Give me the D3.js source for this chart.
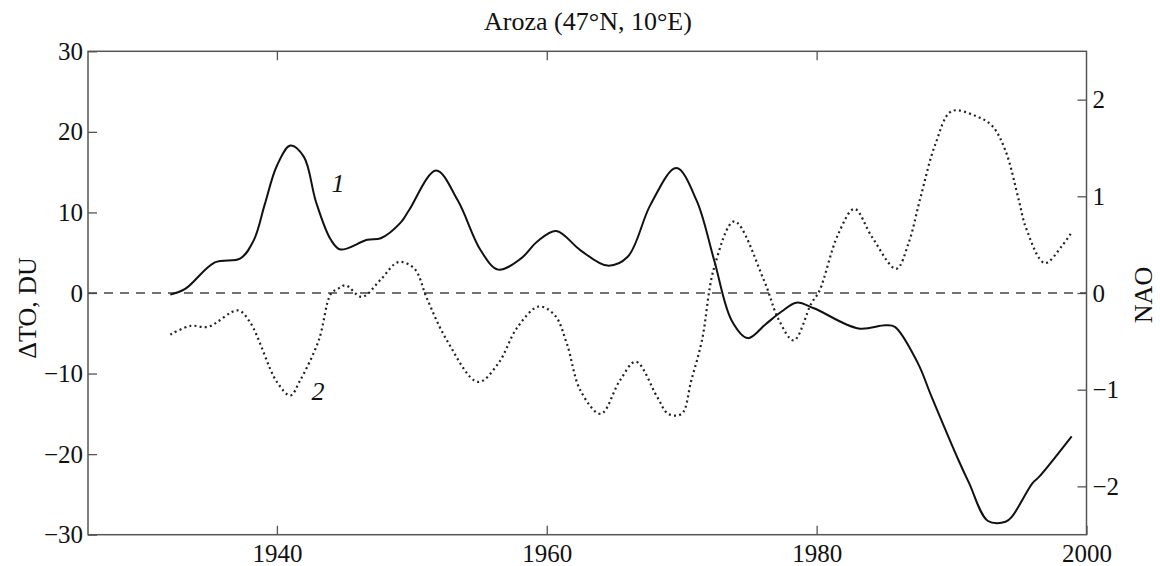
<!DOCTYPE html>
<html>
<head>
<meta charset="utf-8">
<script src="https://cdn.jsdelivr.net/npm/d3@7"></script>
<style>
  body { margin: 0; background: #fff; }
  svg text { font-family: "Liberation Serif", "Times New Roman", serif; fill: #111; }
</style>
</head>
<body>
<div id="viz"></div>
<script>
// curve 1: total ozone anomaly, DU (left axis)
const years1 = [1932.1, 1933.2, 1935.4, 1937.3, 1938.3, 1939.1, 1940.0, 1941.0, 1942.0, 1942.9,
  1944.0, 1944.7, 1946.7, 1947.7, 1949.2, 1949.8, 1951.8, 1953.4, 1955.1, 1956.4,
  1958.1, 1959.3, 1960.7, 1962.5, 1964.5, 1966.0, 1967.7, 1969.6, 1971.1, 1972.4,
  1973.7, 1974.9, 1976.2, 1977.4, 1978.5, 1979.8, 1983.1, 1985.1, 1985.8, 1987.5,
  1988.5, 1990.5, 1991.3, 1992.7, 1994.0, 1994.5, 1996.0, 1996.5, 1998.9];
const ozone = [-0.2, 0.5, 3.8, 4.3, 6.6, 11.0, 15.8, 18.3, 16.9, 11.3,
  6.6, 5.4, 6.6, 6.8, 8.8, 10.3, 15.2, 11.5, 5.3, 2.9,
  4.3, 6.4, 7.7, 5.3, 3.4, 4.5, 11.0, 15.5, 11.5, 4.1,
  -3.4, -5.6, -3.9, -2.3, -1.2, -1.9, -4.4, -4.0, -4.2, -8.7,
  -12.8, -20.7, -23.6, -28.3, -28.4, -27.7, -23.6, -22.8, -17.8];

// curve 2: NAO index (right axis)
const years2 = [1932.1, 1933.6, 1934.9, 1937.1, 1938.0, 1940.0, 1941.0, 1941.7, 1943.1, 1944.0,
  1944.6, 1945.1, 1946.3, 1947.7, 1949.0, 1950.2, 1951.1, 1952.6, 1954.9, 1956.4,
  1957.8, 1959.4, 1960.6, 1961.5, 1962.5, 1964.0, 1965.4, 1966.6, 1968.2, 1969.0,
  1970.0, 1970.7, 1971.5, 1972.4, 1973.9, 1976.1, 1977.2, 1978.3, 1979.6, 1980.2,
  1981.6, 1982.8, 1984.1, 1985.9, 1986.8, 1987.7, 1988.8, 1990.0, 1991.8, 1993.0,
  1994.0, 1995.0, 1995.5, 1996.9, 1998.2, 1998.9];
const nao = [-0.43, -0.34, -0.35, -0.18, -0.3, -0.92, -1.06, -0.91, -0.49, -0.01,
  0.05, 0.08, -0.04, 0.14, 0.32, 0.25, -0.05, -0.49, -0.92, -0.73,
  -0.36, -0.14, -0.23, -0.53, -1.01, -1.25, -0.91, -0.71, -1.08, -1.25,
  -1.25, -0.91, -0.49, 0.26, 0.74, 0.13, -0.28, -0.49, -0.11, 0.02,
  0.61, 0.87, 0.58, 0.25, 0.51, 0.99, 1.54, 1.88, 1.83, 1.73,
  1.47, 0.95, 0.68, 0.31, 0.49, 0.63];

const yearTicks = [1940, 1960, 1980, 2000];
const ozoneTicks = [-30, -20, -10, 0, 10, 20, 30];
const naoTicks = [-2, -1, 0, 1, 2];

const width = 1160, height = 566;
const margin = { top: 51.3, right: 73.5, bottom: 31.3, left: 88 };
const innerW = width - margin.left - margin.right;
const innerH = height - margin.top - margin.bottom;
const serif = "Liberation Serif, Times New Roman, serif";

const svg = d3.select("#viz")
  .append("svg")
  .attr("width", width)
  .attr("height", height);

const g = svg.append("g")
  .attr("transform", `translate(${margin.left},${margin.top})`);

const x = d3.scaleLinear().domain([1926, 2000]).range([0, innerW]);
const yL = d3.scaleLinear().domain([-30, 30]).range([innerH, 0]);
const yR = d3.scaleLinear().domain([-2.5, 2.5]).range([innerH, 0]);
const fmt = d3.format("d");

// axes, ticks point inward
const styleAxis = (sel) => {
  sel.attr("font-family", serif).attr("font-size", 25);
  sel.select(".domain").remove();
  sel.selectAll(".tick line").attr("stroke", "#555").attr("stroke-width", 1.3);
  sel.selectAll(".tick text").attr("fill", "#111");
};

g.append("g")
  .attr("transform", `translate(0,${innerH})`)
  .call(d3.axisBottom(x).tickValues(yearTicks).tickFormat(fmt)
    .tickSizeInner(-9).tickSizeOuter(0).tickPadding(10))
  .call(styleAxis);

g.append("g")
  .call(d3.axisTop(x).tickValues(yearTicks.slice(0, 3)).tickFormat("")
    .tickSizeInner(-9).tickSizeOuter(0))
  .call(styleAxis);

g.append("g")
  .call(d3.axisLeft(yL).tickValues(ozoneTicks).tickFormat(fmt)
    .tickSizeInner(-9).tickSizeOuter(0).tickPadding(5))
  .call(styleAxis);

g.append("g")
  .attr("transform", `translate(${innerW},0)`)
  .call(d3.axisRight(yR).tickValues(naoTicks).tickFormat(fmt)
    .tickSizeInner(-9).tickSizeOuter(0).tickPadding(6))
  .call(styleAxis);

// frame
g.append("rect")
  .attr("width", innerW)
  .attr("height", innerH)
  .attr("fill", "none")
  .attr("stroke", "#555")
  .attr("stroke-width", 1.5);

// zero line
g.append("line")
  .attr("x1", 0)
  .attr("x2", innerW)
  .attr("y1", yL(0))
  .attr("y2", yL(0))
  .attr("stroke", "#444")
  .attr("stroke-width", 1.3)
  .attr("stroke-dasharray", "9,7");

const line1 = d3.line()
  .x((d, i) => x(years1[i]))
  .y((d) => yL(d))
  .curve(d3.curveCatmullRom.alpha(0.5));

const line2 = d3.line()
  .x((d, i) => x(years2[i]))
  .y((d) => yR(d))
  .curve(d3.curveCatmullRom.alpha(0.5));

g.append("path")
  .datum(ozone)
  .attr("d", line1)
  .attr("fill", "none")
  .attr("stroke", "#111")
  .attr("stroke-width", 2);

g.append("path")
  .datum(nao)
  .attr("d", line2)
  .attr("fill", "none")
  .attr("stroke", "#222")
  .attr("stroke-width", 2.2)
  .attr("stroke-dasharray", "2,3.2");

// curve numbers
svg.append("text")
  .attr("x", 338)
  .attr("y", 192)
  .attr("font-size", 26)
  .attr("font-style", "italic")
  .attr("text-anchor", "middle")
  .text("1");

svg.append("text")
  .attr("x", 318)
  .attr("y", 400)
  .attr("font-size", 26)
  .attr("font-style", "italic")
  .attr("text-anchor", "middle")
  .text("2");

// title and axis titles
svg.append("text")
  .attr("x", 588)
  .attr("y", 30)
  .attr("font-size", 26)
  .attr("text-anchor", "middle")
  .text("Aroza (47°N, 10°E)");

svg.append("text")
  .attr("transform", "translate(36,308) rotate(-90)")
  .attr("font-size", 26)
  .attr("text-anchor", "middle")
  .text("ΔTO, DU");

svg.append("text")
  .attr("transform", "translate(1152,295) rotate(-90)")
  .attr("font-size", 26)
  .attr("text-anchor", "middle")
  .text("NAO");
</script>
</body>
</html>
